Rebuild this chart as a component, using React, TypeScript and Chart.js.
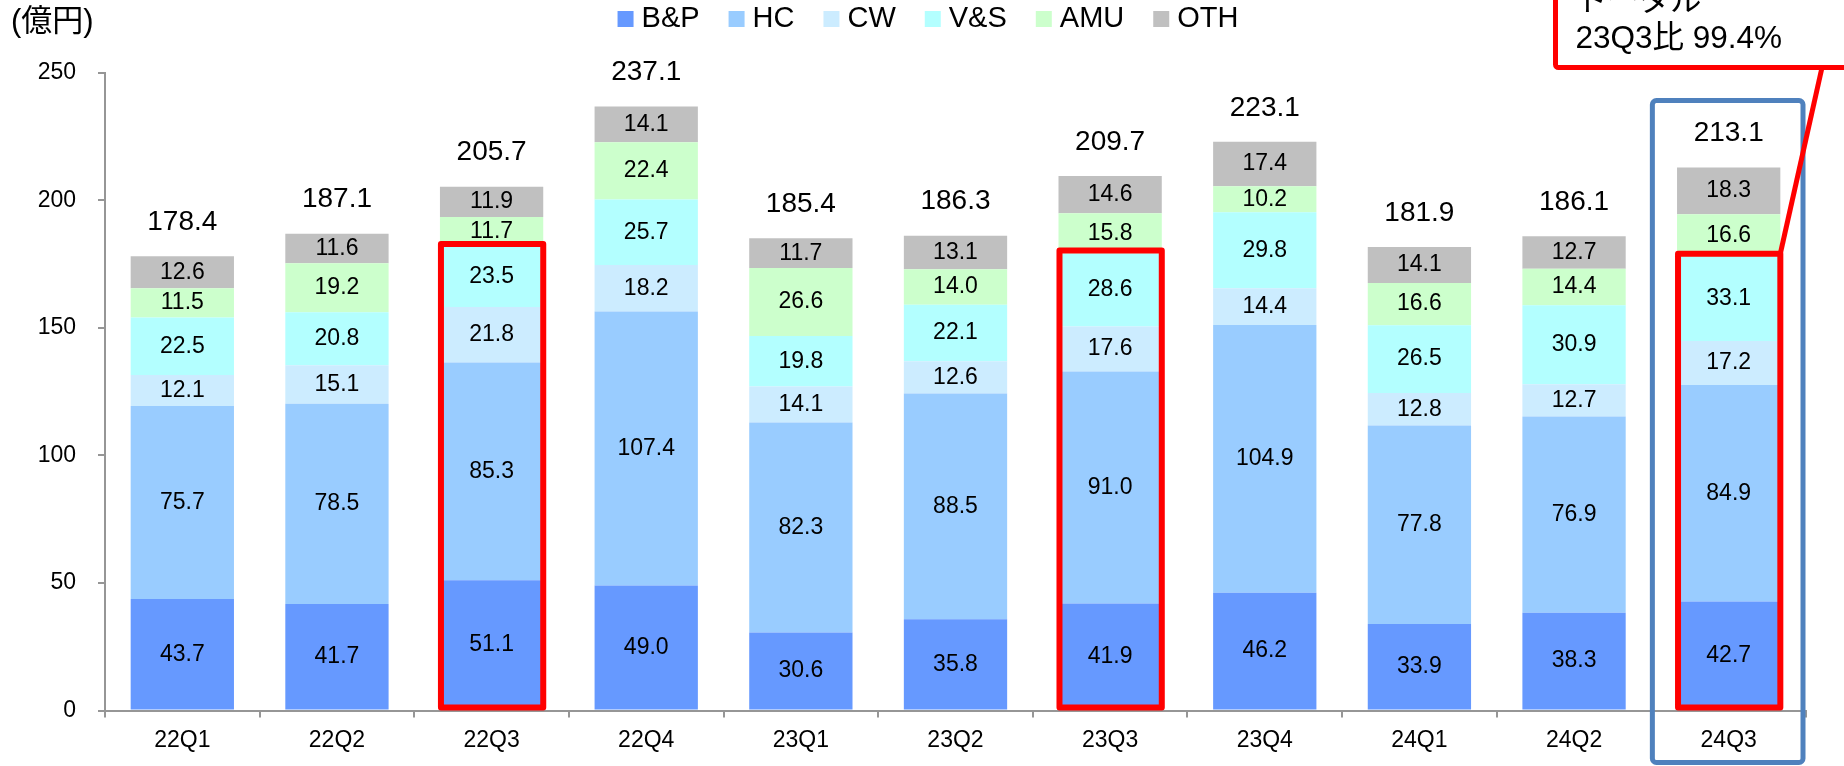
import React, { useEffect, useRef } from 'react';
import { Chart, registerables } from 'chart.js';

Chart.register(...registerables);

const categories = ['22Q1', '22Q2', '22Q3', '22Q4', '23Q1', '23Q2', '23Q3', '23Q4', '24Q1', '24Q2', '24Q3'];
const seriesNames = ['B&P', 'HC', 'CW', 'V&S', 'AMU', 'OTH'];
const seriesColors = ['#6699FF', '#99CCFF', '#CCECFF', '#B3FFFF', '#CCFFCC', '#C0C0C0'];

const bpValues = [43.7, 41.7, 51.1, 49.0, 30.6, 35.8, 41.9, 46.2, 33.9, 38.3, 42.7];
const hcValues = [75.7, 78.5, 85.3, 107.4, 82.3, 88.5, 91.0, 104.9, 77.8, 76.9, 84.9];
const cwValues = [12.1, 15.1, 21.8, 18.2, 14.1, 12.6, 17.6, 14.4, 12.8, 12.7, 17.2];
const vsValues = [22.5, 20.8, 23.5, 25.7, 19.8, 22.1, 28.6, 29.8, 26.5, 30.9, 33.1];
const amuValues = [11.5, 19.2, 11.7, 22.4, 26.6, 14.0, 15.8, 10.2, 16.6, 14.4, 16.6];
const othValues = [12.6, 11.6, 11.9, 14.1, 11.7, 13.1, 14.6, 17.4, 14.1, 12.7, 18.3];
const totals = [178.4, 187.1, 205.7, 237.1, 185.4, 186.3, 209.7, 223.1, 181.9, 186.1, 213.1];

const yTicks = [0, 50, 100, 150, 200, 250];
const unitLabel = '(億円)';
const highlightCategories = ['22Q3', '23Q3', '24Q3'];
const focusCategory = '24Q3';
const calloutLines = ['トータル', '23Q3比 99.4%'];

const FONT = "'Liberation Sans', Arial, 'Noto Sans CJK JP', sans-serif";
const AXIS_COLOR = '#969696';

const annotationPlugin = {
  id: 'annotations',
  afterDatasetsDraw(chart: any) {
    const ctx = chart.ctx as CanvasRenderingContext2D;
    const yScale = chart.scales.y;
    const xScale = chart.scales.x;
    const base = yScale.getPixelForValue(0);
    const nDs = chart.data.datasets.length;
    ctx.save();

    // segment labels
    ctx.fillStyle = '#000';
    ctx.textAlign = 'center';
    ctx.textBaseline = 'middle';
    ctx.font = `23px ${FONT}`;
    chart.data.datasets.forEach((ds: any, di: number) => {
      const meta = chart.getDatasetMeta(di);
      meta.data.forEach((el: any, i: number) => {
        const v = ds.data[i] as number;
        ctx.fillText(v.toFixed(1), el.x, (el.y + el.base) / 2);
      });
    });

    // totals
    const topMeta = chart.getDatasetMeta(nDs - 1);
    ctx.font = `28px ${FONT}`;
    topMeta.data.forEach((el: any, i: number) => {
      ctx.fillText(totals[i].toFixed(1), el.x, el.y - 34);
    });

    // red highlight rectangles (B&P..V&S)
    const vsMeta = chart.getDatasetMeta(3);
    ctx.strokeStyle = '#FF0000';
    ctx.lineWidth = 6;
    ctx.lineJoin = 'round';
    highlightCategories.forEach((c) => {
      const i = categories.indexOf(c);
      const el: any = vsMeta.data[i];
      const left = el.x - el.width / 2 + 1;
      const right = el.x + el.width / 2;
      const top = el.y - 3;
      const bottom = base - 3;
      ctx.strokeRect(left, top, right - left, bottom - top);
    });

    // blue rectangle around focus category
    const fi = categories.indexOf(focusCategory);
    const catW = (xScale.right - xScale.left) / categories.length;
    const fx = xScale.getPixelForValue(fi);
    const topEl: any = topMeta.data[fi];
    const bLeft = fx - catW / 2 + 1;
    const bRight = fx + catW / 2 - 3;
    const bTop = topEl.y - 34 - 33;
    const bBottom = base + 52;
    ctx.strokeStyle = '#4F81BD';
    ctx.lineWidth = 5;
    ctx.beginPath();
    if ((ctx as any).roundRect) {
      (ctx as any).roundRect(bLeft, bTop, bRight - bLeft, bBottom - bTop, 4);
    } else {
      ctx.rect(bLeft, bTop, bRight - bLeft, bBottom - bTop);
    }
    ctx.stroke();

    // callout
    const focusVs: any = vsMeta.data[fi];
    const cornerX = focusVs.x + focusVs.width / 2;
    const cornerY = focusVs.y - 3;
    const boxLeft = chart.width - 288.5;
    const boxBottom = 67.5;
    ctx.strokeStyle = '#FF0000';
    ctx.lineWidth = 5;
    ctx.beginPath();
    ctx.moveTo(chart.width - 22, boxBottom);
    ctx.lineTo(cornerX, cornerY);
    ctx.stroke();

    ctx.fillStyle = '#FFFFFF';
    ctx.beginPath();
    if ((ctx as any).roundRect) {
      (ctx as any).roundRect(boxLeft, -40, 400, boxBottom + 40, 3);
    } else {
      ctx.rect(boxLeft, -40, 400, boxBottom + 40);
    }
    ctx.fill();
    ctx.stroke();

    ctx.fillStyle = '#000';
    ctx.textAlign = 'left';
    ctx.textBaseline = 'alphabetic';
    ctx.font = `31.5px ${FONT}`;
    calloutLines.forEach((line, k) => {
      ctx.fillText(line, boxLeft + 20, 11 + k * 37);
    });

    // unit label
    ctx.font = `31px ${FONT}`;
    ctx.textBaseline = 'middle';
    ctx.fillText(unitLabel, 11, 22);

    // legend
    ctx.font = `29px ${FONT}`;
    const box = 16;
    const gapText = 8;
    const gapItem = 29;
    const widths = seriesNames.map((n) => ctx.measureText(n).width);
    const total = widths.reduce((a, w) => a + box + gapText + w, 0) + gapItem * (seriesNames.length - 1);
    let lx = 928 - total / 2;
    seriesNames.forEach((n, k) => {
      ctx.fillStyle = seriesColors[k];
      ctx.fillRect(lx, 11, box, box);
      ctx.fillStyle = '#000';
      ctx.textBaseline = 'middle';
      ctx.fillText(n, lx + box + gapText, 19);
      lx += box + gapText + widths[k] + gapItem;
    });

    ctx.restore();
  },
};

export default function App() {
  const canvasRef = useRef<HTMLCanvasElement | null>(null);

  useEffect(() => {
    if (!canvasRef.current) return;
    const valueLists = [bpValues, hcValues, cwValues, vsValues, amuValues, othValues];
    const chart = new Chart(canvasRef.current, {
      type: 'bar',
      data: {
        labels: categories,
        datasets: seriesNames.map((name, k) => ({
          label: name,
          data: valueLists[k],
          backgroundColor: seriesColors[k],
          borderWidth: 0,
          barPercentage: 0.668,
          categoryPercentage: 1,
        })),
      },
      options: {
        responsive: false,
        animation: false,
        devicePixelRatio: 1,
        layout: { padding: { top: 72.7, right: 38, bottom: 0, left: 0 } },
        plugins: {
          legend: { display: false },
          tooltip: { enabled: false },
        },
        scales: {
          x: {
            stacked: true,
            grid: {
              display: true,
              drawOnChartArea: false,
              drawTicks: true,
              tickLength: 7,
              color: AXIS_COLOR,
              lineWidth: 2,
              offset: true,
            },
            border: { display: true, color: AXIS_COLOR, width: 2 },
            ticks: {
              color: '#000',
              font: { family: FONT, size: 23 },
              padding: 9,
              maxRotation: 0,
              autoSkip: false,
            },
            afterFit: (s: any) => {
              s.height = 55.5;
            },
          },
          y: {
            stacked: true,
            min: 0,
            max: 250,
            afterBuildTicks: (s: any) => {
              s.ticks = yTicks.map((v) => ({ value: v }));
            },
            grid: {
              drawOnChartArea: false,
              drawTicks: true,
              tickLength: 7,
              color: AXIS_COLOR,
              lineWidth: 2,
            },
            border: { display: true, color: AXIS_COLOR, width: 2 },
            ticks: {
              color: '#000',
              font: { family: FONT, size: 23 },
              padding: 22,
            },
            afterFit: (s: any) => {
              s.width = 105;
            },
          },
        },
      },
      plugins: [annotationPlugin],
    });
    return () => chart.destroy();
  }, []);

  return (
    <div style={{ position: 'absolute', left: 0, top: 0, width: 1844, height: 766, background: '#fff' }}>
      <canvas ref={canvasRef} width={1844} height={766} style={{ display: 'block', width: 1844, height: 766 }} />
    </div>
  );
}
